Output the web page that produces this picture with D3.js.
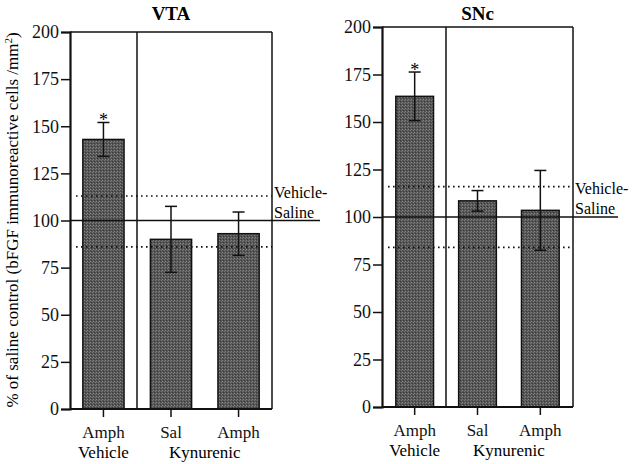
<!DOCTYPE html>
<html>
<head>
<meta charset="utf-8">
<script src="https://cdn.jsdelivr.net/npm/d3@7"></script>
<style>
  body { margin: 0; background: #fff; }
  svg text { font-family: "Liberation Serif", "DejaVu Serif", serif; }
</style>
</head>
<body>
<div id="chart"></div>
<script>
// groups on the x axis
var groups = ["Amph Vehicle", "Sal Kynurenic", "Amph Kynurenic"];
var tickTop = ["Amph", "Sal", "Amph"];
var yTicks = [0, 25, 50, 75, 100, 125, 150, 175, 200];

// VTA panel values (% of saline control)
var vtaMeans = [143, 90, 93];
var vtaErrors = [9, 17.5, 11.5];
var vtaBand = [86, 113];

// SNc panel values
var sncMeans = [163.5, 108.5, 103.5];
var sncErrors = [12.8, 5.4, 21];
var sncBand = [84, 116];

var serif = "'Liberation Serif', 'DejaVu Serif', serif";

var svg = d3.select("#chart")
    .append("svg")
    .attr("width", 638)
    .attr("height", 464);

// stipple pattern for the bars
var pat = svg.append("defs").append("pattern")
    .attr("id", "stipple")
    .attr("width", 3)
    .attr("height", 3)
    .attr("patternUnits", "userSpaceOnUse");
pat.append("rect").attr("width", 3).attr("height", 3).attr("fill", "#555");
pat.append("rect").attr("x", 0).attr("y", 0).attr("width", 1).attr("height", 1).attr("fill", "#858585");
pat.append("rect").attr("x", 2).attr("y", 1).attr("width", 1).attr("height", 1).attr("fill", "#777");
pat.append("rect").attr("x", 1).attr("y", 2).attr("width", 1).attr("height", 1).attr("fill", "#3a3a3a");

function drawPanel(p) {
    var g = svg.append("g");

    var y = d3.scaleLinear()
        .domain([0, 200])
        .range([p.bottom, p.top]);

    var x = d3.scaleBand()
        .domain(groups)
        .range([p.left, p.right])
        .paddingInner(p.padIn)
        .paddingOuter(p.padOut);

    // title
    g.append("text")
        .attr("x", (p.left + p.right) / 2)
        .attr("y", 20)
        .attr("text-anchor", "middle")
        .style("font-family", serif)
        .style("font-size", "19px")
        .style("font-weight", "bold")
        .text(p.title);

    // bars
    g.selectAll(".bar")
        .data(p.means)
        .enter()
        .append("rect")
        .attr("x", function(d, i) { return x(groups[i]); })
        .attr("y", function(d) { return y(d); })
        .attr("width", x.bandwidth())
        .attr("height", function(d) { return y(0) - y(d); })
        .attr("fill", "url(#stipple)")
        .attr("stroke", "#111")
        .attr("stroke-width", 1.5);

    // dotted vehicle-saline band
    g.selectAll(".band")
        .data(p.band)
        .enter()
        .append("line")
        .attr("x1", p.left + 6)
        .attr("x2", p.right)
        .attr("y1", function(d) { return y(d); })
        .attr("y2", function(d) { return y(d); })
        .attr("stroke", "#111")
        .attr("stroke-width", 1.6)
        .attr("stroke-dasharray", "1.6,3.4");

    // solid 100% line
    g.append("line")
        .attr("x1", p.left)
        .attr("x2", p.lineEnd)
        .attr("y1", y(100))
        .attr("y2", y(100))
        .attr("stroke", "#111")
        .attr("stroke-width", 1.4);

    // error bars
    var eb = g.selectAll(".err")
        .data(p.means)
        .enter()
        .append("g");
    eb.append("line")
        .attr("x1", function(d, i) { return x(groups[i]) + x.bandwidth() / 2; })
        .attr("x2", function(d, i) { return x(groups[i]) + x.bandwidth() / 2; })
        .attr("y1", function(d, i) { return y(d + p.errors[i]); })
        .attr("y2", function(d, i) { return y(d - p.errors[i]); })
        .attr("stroke", "#111")
        .attr("stroke-width", 1.5);
    [1, -1].forEach(function(s) {
        eb.append("line")
            .attr("x1", function(d, i) { return x(groups[i]) + x.bandwidth() / 2 - 6; })
            .attr("x2", function(d, i) { return x(groups[i]) + x.bandwidth() / 2 + 6; })
            .attr("y1", function(d, i) { return y(d + s * p.errors[i]); })
            .attr("y2", function(d, i) { return y(d + s * p.errors[i]); })
            .attr("stroke", "#111")
            .attr("stroke-width", 1.5);
    });

    // significance star over the first bar
    g.append("text")
        .attr("x", x(groups[0]) + x.bandwidth() / 2)
        .attr("y", y(p.means[0] + p.errors[0]) + 4)
        .attr("text-anchor", "middle")
        .style("font-family", serif)
        .style("font-size", "18px")
        .text("*");

    // frame: top, right, divider
    g.append("line")
        .attr("x1", p.left).attr("x2", p.right)
        .attr("y1", p.top).attr("y2", p.top)
        .attr("stroke", "#111").attr("stroke-width", 1.5);
    g.append("line")
        .attr("x1", p.right).attr("x2", p.right)
        .attr("y1", p.top).attr("y2", p.bottom)
        .attr("stroke", "#111").attr("stroke-width", 1.5);
    g.append("line")
        .attr("x1", p.divider).attr("x2", p.divider)
        .attr("y1", p.top).attr("y2", p.bottom)
        .attr("stroke", "#111").attr("stroke-width", 1.5);

    // y axis
    var ya = g.append("g")
        .attr("transform", "translate(" + p.left + ",0)")
        .call(d3.axisLeft(y).tickValues(yTicks).tickSize(9).tickPadding(2));
    ya.attr("font-family", null).attr("font-size", null);
    ya.select(".domain").attr("stroke", "#111").attr("stroke-width", 2.2);
    ya.selectAll(".tick line").attr("stroke", "#111").attr("stroke-width", 1.5);
    ya.selectAll("text")
        .attr("fill", "#111")
        .style("font-family", serif)
        .style("font-size", "18px");

    // x axis
    var xa = g.append("g")
        .attr("transform", "translate(0," + p.bottom + ")")
        .call(d3.axisBottom(x).tickSize(8).tickSizeOuter(0).tickFormat(function(d, i) { return tickTop[i]; }));
    xa.attr("font-family", null).attr("font-size", null);
    xa.select(".domain").attr("stroke", "#111").attr("stroke-width", 2.2)
        .attr("d", "M" + p.left + ",0H" + p.right);
    xa.selectAll(".tick line").attr("stroke", "#111").attr("stroke-width", 1.5);
    xa.selectAll("text")
        .attr("fill", "#111")
        .attr("dy", 0)
        .attr("y", 29)
        .style("font-family", serif)
        .style("font-size", "17px");

    // second line of group labels
    g.append("text")
        .attr("x", x(groups[0]) + x.bandwidth() / 2)
        .attr("y", p.bottom + 49)
        .attr("text-anchor", "middle")
        .style("font-family", serif)
        .style("font-size", "17px")
        .text("Vehicle");
    g.append("text")
        .attr("x", (x(groups[1]) + x(groups[2]) + x.bandwidth()) / 2)
        .attr("y", p.bottom + 49)
        .attr("text-anchor", "middle")
        .style("font-family", serif)
        .style("font-size", "17px")
        .text("Kynurenic");

    // Vehicle-Saline label
    g.append("text")
        .attr("x", p.right + 2)
        .attr("y", y(100) - 23)
        .style("font-family", serif)
        .style("font-size", "16px")
        .text("Vehicle-");
    g.append("text")
        .attr("x", p.right + 2)
        .attr("y", y(100) - 3)
        .style("font-family", serif)
        .style("font-size", "16px")
        .text("Saline");
}

drawPanel({
    title: "VTA", means: vtaMeans, errors: vtaErrors, band: vtaBand,
    left: 70, right: 272, divider: 137, top: 32, bottom: 409,
    padIn: 0.39, padOut: 0.19, lineEnd: 320
});

drawPanel({
    title: "SNc", means: sncMeans, errors: sncErrors, band: sncBand,
    left: 382, right: 573, divider: 446, top: 27, bottom: 407,
    padIn: 0.4, padOut: 0.22, lineEnd: 618
});

// y axis title
var yt = svg.append("text")
    .attr("transform", "translate(18,220) rotate(-90)")
    .attr("text-anchor", "middle")
    .style("font-family", serif)
    .style("font-size", "17px");
yt.append("tspan").text("% of saline control (bFGF immunoreactive cells /mm");
yt.append("tspan").attr("dy", -6).style("font-size", "11px").text("2");
yt.append("tspan").attr("dy", 6).text(")");
</script>
</body>
</html>
